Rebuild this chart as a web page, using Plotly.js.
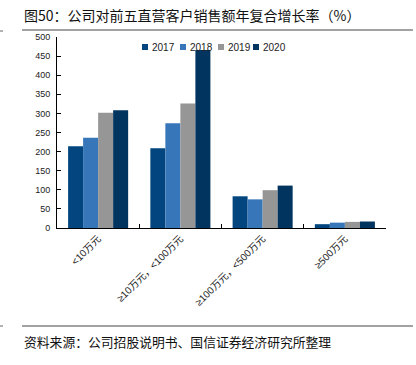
<!DOCTYPE html>
<html><head><meta charset="utf-8">
<script src="https://cdn.plot.ly/plotly-3.0.1.min.js"></script>
<style>body{margin:0;padding:0;background:#fff}#chart{width:416px;height:365px}</style>
</head><body><div id="chart"></div>
<script>
const categories = ["<10万元", "≥10万元，<100万元", "≥100万元，<500万元", "≥500万元"];
const seriesNames = ["2017", "2018", "2019", "2020"];
const v2017 = [214, 209, 83, 10];
const v2018 = [236, 274, 75, 14];
const v2019 = [302, 326, 99, 16];
const v2020 = [308, 466, 111, 17];
const colors = ["#02457f", "#3776b8", "#969696", "#01345f"];
const yTicks = [0, 50, 100, 150, 200, 250, 300, 350, 400, 450, 500];

const allValues = [v2017, v2018, v2019, v2020];
const traces = allValues.map((vals, i) => ({
  type: "bar", name: seriesNames[i], x: categories, y: vals,
  marker: {color: colors[i], line: {width: 0}}, hoverinfo: "y"
}));

// plot area in pixels
const L = 57, R = 386, T = 37, B = 228, W = 416, H = 365;
const px = x => (x - L) / (R - L);
const py = y => (B - y) / (B - T);

const shapes = [
  {type: "line", xref: "paper", yref: "paper", x0: px(22), x1: px(413), y0: py(30), y1: py(30), line: {color: "#444", width: 1}},
  {type: "line", xref: "paper", yref: "paper", x0: px(22), x1: px(413), y0: py(326), y1: py(326), line: {color: "#444", width: 1}},
  {type: "line", xref: "paper", yref: "paper", x0: px(0), x1: px(3), y0: py(31), y1: py(31), line: {color: "#666", width: 1}},
  {type: "line", xref: "paper", yref: "paper", x0: px(0), x1: px(3), y0: py(326), y1: py(326), line: {color: "#666", width: 1}}
];
const annotations = [
  {xref: "paper", yref: "paper", x: px(22), y: py(15), xanchor: "left", yanchor: "middle", showarrow: false,
   text: "图50：公司对前五直营客户销售额年复合增长率（%）", font: {family: "Noto Sans CJK SC, sans-serif", size: 14, color: "#111"}},
  {xref: "paper", yref: "paper", x: px(22), y: py(341), xanchor: "left", yanchor: "middle", showarrow: false,
   text: "资料来源：公司招股说明书、国信证券经济研究所整理", font: {family: "Noto Sans CJK SC, sans-serif", size: 12.8, color: "#111"}}
];
// custom compact legend
const legX = [142, 180, 218, 253];
seriesNames.forEach((n, i) => {
  shapes.push({type: "rect", xref: "paper", yref: "paper", x0: px(legX[i]), x1: px(legX[i] + 6), y0: py(50), y1: py(44),
    fillcolor: colors[i], line: {width: 0}});
  annotations.push({xref: "paper", yref: "paper", x: px(legX[i] + 8), y: py(47), xanchor: "left", yanchor: "middle",
    showarrow: false, text: n, font: {family: "Liberation Sans, Arial, sans-serif", size: 10, color: "#222"}});
});

const layout = {
  width: W, height: H,
  margin: {l: L, r: W - R, t: T, b: H - B, pad: 0},
  paper_bgcolor: "#fff", plot_bgcolor: "#fff",
  showlegend: false,
  barmode: "group", bargap: 0.27, bargroupgap: 0,
  font: {family: "Liberation Sans, Noto Sans CJK SC, sans-serif", size: 9, color: "#222"},
  xaxis: {type: "category", showline: true, linecolor: "#000", linewidth: 1, ticks: "inside", tickson: "boundaries",
    ticklen: 4, tickcolor: "#000", tickangle: -45, showgrid: false, zeroline: false,
    tickfont: {family: "Liberation Sans, Noto Sans CJK SC, sans-serif", size: 10, color: "#222"}},
  yaxis: {range: [0, 500], tickvals: yTicks, showline: true, linecolor: "#000", linewidth: 1, ticks: "inside",
    ticklen: 4, tickcolor: "#000", showgrid: false, zeroline: false, ticklabelstandoff: 4,
    tickfont: {family: "Liberation Sans, Arial, sans-serif", size: 9, color: "#222"}},
  shapes: shapes, annotations: annotations
};
Plotly.newPlot("chart", traces, layout, {displayModeBar: false, staticPlot: true});
</script></body></html>
